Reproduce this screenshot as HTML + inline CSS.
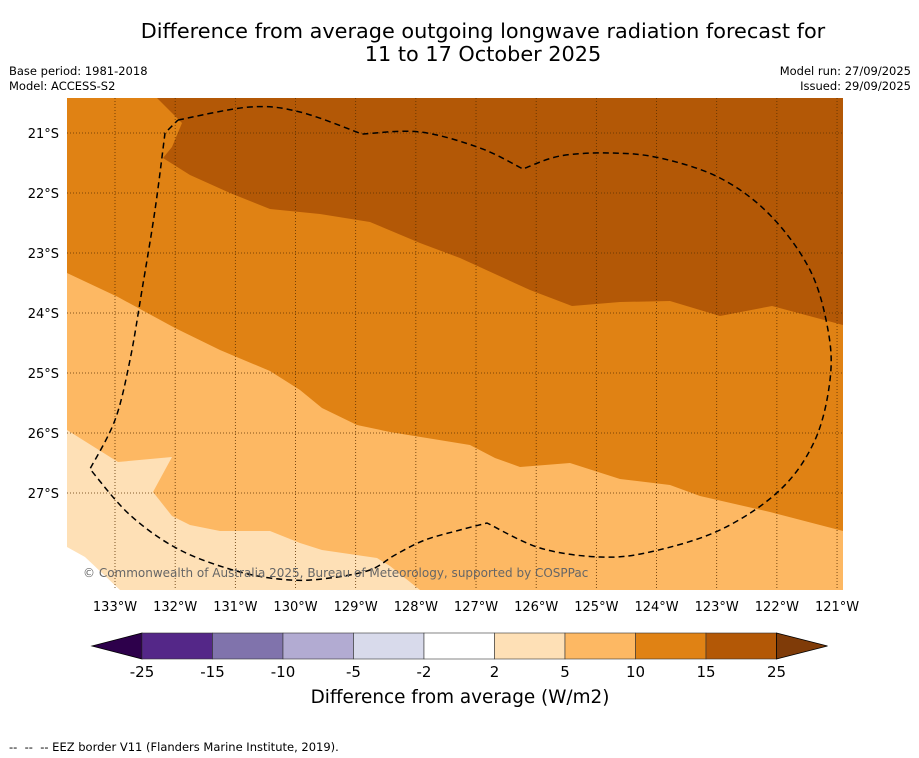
<!DOCTYPE html>
<html><head><meta charset="utf-8"><style>
body{margin:0;background:#fff;width:919px;height:758px;overflow:hidden;font-family:"DejaVu Sans","Liberation Sans",sans-serif}
svg{display:block}
</style></head><body>
<svg width="919" height="758" viewBox="0 0 919 758" xmlns="http://www.w3.org/2000/svg" font-family="DejaVu Sans, Liberation Sans, sans-serif">
<text x="483" y="38" font-size="20.8" text-anchor="middle">Difference from average outgoing longwave radiation forecast for</text>
<text x="483" y="61" font-size="20.8" text-anchor="middle">11 to 17 October 2025</text>
<text x="9" y="75" font-size="11.5">Base period: 1981-2018</text>
<text x="9" y="90" font-size="11.5">Model: ACCESS-S2</text>
<text x="911" y="75" font-size="11.5" text-anchor="end">Model run: 27/09/2025</text>
<text x="911" y="90" font-size="11.5" text-anchor="end">Issued: 29/09/2025</text>
<defs><clipPath id="mc"><rect x="67" y="98" width="776" height="492"/></clipPath></defs>
<g clip-path="url(#mc)">
<rect x="67" y="98" width="776" height="492" fill="#fee0b6"/>
<polygon fill="#fdb863" points="67,98 843,98 843,590 420,590 390,566 377,558 322,550 300,543 270,531 220,531 190,525 172,516 153,492 172,457 118,462 67,430"/>
<polygon fill="#e08214" points="67,98 843,98 843,531 770,512 700,496 670,485 620,479 570,463 520,467 495,458 470,445 390,432 357,425 322,408 300,390 270,371 220,350 175,328 118,297 67,273"/>
<polygon fill="#b35806" points="157,98 843,98 843,325 772,306 720,316 670,301 620,302 572,306 530,290 460,258 420,243 370,222 320,214 270,209 230,193 190,175 163,158 172,147 182,123"/>
<polygon fill="#fff" points="67,547 85,557 120,590 67,590"/>
<g id="grid"></g>
<path id="eez" fill="none" stroke="#000" stroke-width="1.5" stroke-dasharray="6,4"/>
<text x="83" y="577" font-size="12" fill="#666">© Commonwealth of Australia 2025, Bureau of Meteorology, supported by COSPPac</text>
</g>
<g id="axes"></g>
<g id="cbar"></g>
<text x="460" y="703" font-size="18.4" text-anchor="middle">Difference from average (W/m2)</text>
<text x="9" y="751" font-size="11.5" xml:space="preserve" style="white-space:pre">--  --  -- EEZ border V11 (Flanders Marine Institute, 2019).</text>
</svg>
<script>
const lonTicks=[-133,-132,-131,-130,-129,-128,-127,-126,-125,-124,-123,-122,-121];
const latTicks=[-21,-22,-23,-24,-25,-26,-27];
const levels=[-25,-15,-10,-5,-2,2,5,10,15,25];
const colors=["#542788","#8073ac","#b2abd2","#d8daeb","#ffffff","#fee0b6","#fdb863","#e08214","#b35806"];
const NS="http://www.w3.org/2000/svg";
const xLon=l=>115+(l+133)*60.17;
const yLat=l=>133+(-21-l)*60;
function mk(t,a,p){const e=document.createElementNS(NS,t);for(const k in a)e.setAttribute(k,a[k]);p.appendChild(e);return e;}
const grid=document.getElementById('grid'),axes=document.getElementById('axes'),cb=document.getElementById('cbar');
lonTicks.forEach(l=>{const x=xLon(l);
 const g=mk('line',{x1:x,x2:x,y1:98,y2:590,stroke:'#5a3000','stroke-width':0.8,'stroke-dasharray':'1,2'},grid);
 
 
 const t=mk('text',{x:x,y:611,'font-size':13,'text-anchor':'middle'},axes);t.textContent=Math.abs(l)+'°W';
 
 });
latTicks.forEach(l=>{const y=yLat(l);
 const g=mk('line',{x1:67,x2:843,y1:y,y2:y,stroke:'#5a3000','stroke-width':0.8,'stroke-dasharray':'1,2'},grid);
 
 
 const t=mk('text',{x:59,y:y+5,'font-size':13,'text-anchor':'end'},axes);t.textContent=Math.abs(l)+'°S';
 
 });
// EEZ border smoothed
const eezPts=[[178,120],[250,107],[300,112],[362,134],[420,132],[480,148],[523,169],[560,156],[610,153],[660,158],[720,178],[770,215],[810,270],[828,330],[830,380],[815,440],[780,490],[720,530],[650,552],[600,557],[540,548],[487,523],[460,530],[425,540],[395,555],[370,570],[330,578],[290,580],[240,572],[180,550],[130,515],[90,469],[115,420],[130,360],[142,290],[155,210],[165,133],[178,120]];
const corners=new Set([0,3,6,21,31,36,37]);
let d='M'+eezPts[0].join(',');
for(let i=0;i<eezPts.length-1;i++){
 const p1=eezPts[i],p2=eezPts[i+1];
 const p0=corners.has(i)?p1:eezPts[i-1]||p1;
 const p3=corners.has(i+1)?p2:eezPts[i+2]||p2;
 const c1=[p1[0]+(p2[0]-p0[0])/6,p1[1]+(p2[1]-p0[1])/6];
 const c2=[p2[0]-(p3[0]-p1[0])/6,p2[1]-(p3[1]-p1[1])/6];
 d+=` C${c1[0]},${c1[1]} ${c2[0]},${c2[1]} ${p2[0]},${p2[1]}`;
}
document.getElementById('eez').setAttribute('d',d);
const cx0=142,cw=63.5,cy=633,ch=26;
const cwb=70.5;
const tri1=mk('polygon',{points:`${cx0},${cy} 92,${cy+13} ${cx0},${cy+ch}`,fill:'#2d004b',stroke:'#000','stroke-width':0.8},cb);


colors.forEach((c,i)=>{const r=mk('rect',{x:cx0+i*cwb,y:cy,width:cwb,height:ch,fill:c,stroke:'#333','stroke-width':0.6},cb);
 
 });
const xe=cx0+colors.length*cwb;
const tri2=mk('polygon',{points:`${xe},${cy} ${xe+51},${cy+13} ${xe},${cy+ch}`,fill:'#7f3b08',stroke:'#000','stroke-width':0.8},cb);


levels.forEach((v,i)=>{const t=mk('text',{x:cx0+i*cwb,y:677,'font-size':15,'text-anchor':'middle'},cb);t.textContent=v;
 
 });
</script>
</body></html>
